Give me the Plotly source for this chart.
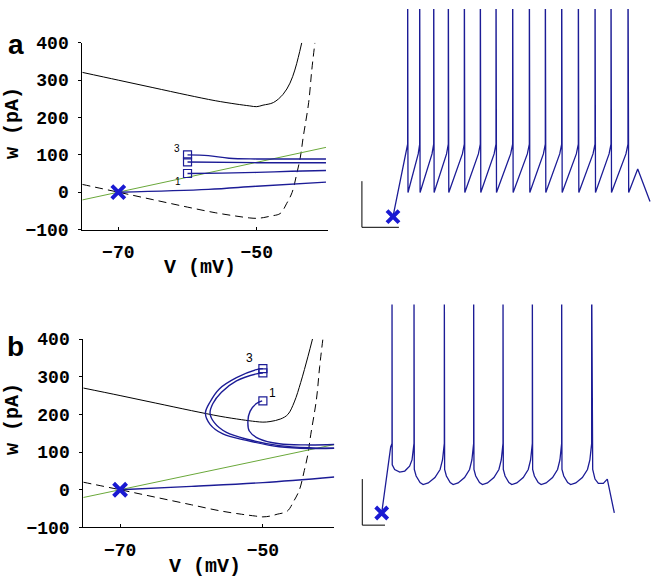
import plotly.graph_objects as go

# ---------------- Panel a : phase plane ----------------
vnull0_a_V = [-75.2, -70, -65, -60, -56, -53, -51, -50, -49, -48, -46.6, -45.7, -44.9, -44.2, -43.7, -43.3, -42.5, -42.05, -41.6]
vnull0_a_w = [20.8, 0, -20, -40, -55, -64, -69, -70, -68, -64, -57, -31, -1, 51, 94, 146, 240, 327, 400]
vnullI_a_V = [-75.2, -70, -65, -60, -56, -53, -51, -50, -49.1, -47.6, -46.2, -45.2, -44.5, -44.0, -43.5]
vnullI_a_w = [320.8, 300, 280, 260, 245, 236, 231, 229, 233, 240, 262, 292, 327, 361, 400]
wnull_a_V = [-75.2, -40.0]
wnull_a_w = [-20.8, 120]
traj0_a_V = [-70, -57, -50, -40]
traj0_a_w = [0, 7.5, 16, 27]
traj1_a_V = [-60, -55, -50, -45, -40]
traj1_a_w = [50, 51, 53, 56, 58]
traj2_a_V = [-60, -50, -40]
traj2_a_w = [81, 79, 79]
traj3_a_V = [-60, -57, -54, -50, -40]
traj3_a_w = [100, 98, 91, 89, 89]
start_a_V = [-60, -60, -60]
start_a_w = [100, 81, 50]
labels_a = [("3", -61.5, 117), ("1", -61.4, 29)]

# ---------------- Panel b : phase plane ----------------
vnull0_b_V = [-75.15, -70, -65, -60, -56, -53, -51, -50, -49, -48, -46.6, -45.7, -44.9, -44.2, -43.7, -43.3, -42.5, -42.05, -41.6]
vnull0_b_w = [20, 0, -20, -40, -56, -65, -70, -72, -70, -65, -57, -31, -1, 51, 94, 146, 240, 327, 400]
vnullI_b_V = [-75.15, -70, -65, -60, -56, -53, -51, -50, -49, -47.5, -46.5, -45.6, -44.7, -43.7, -43.0]
vnullI_b_w = [270, 250, 230, 210, 195, 186, 181, 179.5, 181, 188, 200, 233, 285, 353, 404]
wnull_b_V = [-75.15, -40.0]
wnull_b_w = [-20.6, 120]
traj0_b_V = [-70, -60, -50, -40]
traj0_b_w = [0, 9, 19, 34]
traj1_b_V = [-50.1, -50.9, -51.8, -52.1, -51.9, -50.5, -47.7, -44, -40]
traj1_b_w = [236, 229, 208, 182, 156, 135, 122, 119, 120]
traj2_b_V = [-50, -50.9, -53.7, -55.8, -57, -57.4, -56.8, -55.1, -51.9, -47.7, -43, -40]
traj2_b_w = [310, 307.7, 289, 259, 229, 203, 178, 152, 132.6, 117, 111, 110]
traj3_b_V = [-50, -50.9, -53.7, -56.1, -57.4, -58.05, -57.4, -55.6, -52.3, -47.7, -43, -40]
traj3_b_w = [321.5, 319, 297.5, 267.7, 233, 203.6, 173.6, 148, 131, 114, 109.5, 110]
start_b_V = [-50, -50, -50]
start_b_w = [321.5, 310, 236]
labels_b = [("3", -51.9, 350), ("1", -48.7, 256)]

rest_V = -70
rest_w = 0

# ---------------- Panel a : voltage trace (t in ms, V in mV) ----------------
spike_t_a = [39.6, 72.1, 110.0, 149.5, 192.8, 236.0, 278.4, 323.4, 368.5, 411.7,
             455.9, 500.9, 546.0, 589.2, 635.1]
start_seg_a_t = [0.0, 33.2, 38.0]
start_seg_a_v = [-70.0, -44.0, -41.0]
isi_frac_a = [0.03, 0.88, 0.96]
isi_v_a = [-60.0, -44.0, -41.0]
spike_base_a = -40.0
spike_peak = 40.0
end_seg_a_t = [637.0, 661.4, 694.6]
end_seg_a_v = [-60.0, -50.3, -63.7]
bar_a_t = [-84.0, -84.0, 16.0]
bar_a_v = [-55.3, -74.4, -74.4]

# ---------------- Panel b : voltage trace ----------------
spike_t_b = [45.4, 142.3, 275.9, 405.1, 534.4, 663.6, 792.8, 925.0]
start_seg_b_t = [0.0, 29.0, 39.6]
start_seg_b_v = [-70.0, -48.5, -39.6]
isi1_frac_b = [0.01, 0.12, 0.35, 0.58, 0.80, 0.91, 0.97]
isi1_v_b = [-47.8, -50.0, -51.2, -50.7, -48.5, -45.6, -41.8]
isi_frac_b = [0.01, 0.07, 0.20, 0.30, 0.47, 0.69, 0.86, 0.94, 0.98]
isi_v_b = [-50.0, -53.0, -56.0, -56.9, -56.2, -53.7, -50.0, -45.6, -41.1]
spike_base_b = -38.0
end_seg_b_t = [929.5, 939.6, 954.2, 976.2, 993.8, 1024.7]
end_seg_b_v = [-50.0, -54.4, -56.4, -56.4, -54.4, -70.0]
bar_b_t = [-85.5, -85.5, 14.5]
bar_b_v = [-54.4, -75.6, -75.6]

NAVY = "#1c1c96"
XBLUE = "#1a1ad2"
GREEN = "#6aa83a"


def build_trace(start_t, start_v, spikes, base, templates, end_t, end_v):
    t = list(start_t)
    v = list(start_v)
    for i, s in enumerate(spikes):
        t += [s, s]
        v += [base, spike_peak]
        if i < len(spikes) - 1:
            nxt = spikes[i + 1]
            fr, vv = templates[min(i, len(templates) - 1)]
            for f, val in zip(fr, vv):
                t.append(s + f * (nxt - s))
                v.append(val)
    t += end_t
    v += end_v
    return t, v


ta, va = build_trace(start_seg_a_t, start_seg_a_v, spike_t_a, spike_base_a,
                     [(isi_frac_a, isi_v_a)], end_seg_a_t, end_seg_a_v)
tb, vb = build_trace(start_seg_b_t, start_seg_b_v, spike_t_b, spike_base_b,
                     [(isi1_frac_b, isi1_v_b), (isi_frac_b, isi_v_b)], end_seg_b_t, end_seg_b_v)

fig = go.Figure()


def line(x, y, xa, ya, color, width=1.0, dash="solid", shape="spline"):
    fig.add_trace(go.Scatter(x=x, y=y, xaxis=xa, yaxis=ya, mode="lines",
                             line=dict(color=color, width=width, dash=dash, shape=shape),
                             hoverinfo="skip", showlegend=False))


def phase(xa, ya, n0V, n0w, nIV, nIw, wV, ww, trajs, sV, sw):
    line(n0V, n0w, xa, ya, "black", 1.0, "8px,5px")
    line(nIV, nIw, xa, ya, "black", 1.0)
    line(wV, ww, xa, ya, GREEN, 1.0, shape="linear")
    for (tv, tw) in trajs:
        line(tv, tw, xa, ya, NAVY, 1.4)
    fig.add_trace(go.Scatter(x=sV, y=sw, xaxis=xa, yaxis=ya, mode="markers",
                             marker=dict(symbol="square-open", size=8, color=NAVY,
                                         line=dict(width=1.2, color=NAVY)),
                             hoverinfo="skip", showlegend=False))
    fig.add_trace(go.Scatter(x=[rest_V], y=[rest_w], xaxis=xa, yaxis=ya, mode="markers",
                             marker=dict(symbol="x-thin-open", size=13, color=XBLUE,
                                         line=dict(width=4, color=XBLUE)),
                             hoverinfo="skip", showlegend=False))


phase("x", "y", vnull0_a_V, vnull0_a_w, vnullI_a_V, vnullI_a_w, wnull_a_V, wnull_a_w,
      [(traj0_a_V, traj0_a_w), (traj1_a_V, traj1_a_w), (traj2_a_V, traj2_a_w), (traj3_a_V, traj3_a_w)],
      start_a_V, start_a_w)
phase("x2", "y2", vnull0_b_V, vnull0_b_w, vnullI_b_V, vnullI_b_w, wnull_b_V, wnull_b_w,
      [(traj0_b_V, traj0_b_w), (traj1_b_V, traj1_b_w), (traj2_b_V, traj2_b_w), (traj3_b_V, traj3_b_w)],
      start_b_V, start_b_w)

# voltage traces
for (t, v, xa, ya, bt, bv) in [(ta, va, "x3", "y3", bar_a_t, bar_a_v), (tb, vb, "x4", "y4", bar_b_t, bar_b_v)]:
    line(t, v, xa, ya, NAVY, 1.3, shape="linear")
    line(bt, bv, xa, ya, "black", 1.0, shape="linear")
    fig.add_trace(go.Scatter(x=[0.0], y=[-70.0], xaxis=xa, yaxis=ya, mode="markers",
                             marker=dict(symbol="x-thin-open", size=12, color=XBLUE,
                                         line=dict(width=4, color=XBLUE)),
                             hoverinfo="skip", showlegend=False))

W, H = 651, 587
tickfont = dict(family="Liberation Mono, Courier New, monospace", size=18, color="black", weight="bold")


def px_dom(a, b, total):
    return [a / total, b / total]


def phase_axes(xdom, ydom, xrange_, anchor_x, anchor_y):
    xa = dict(domain=xdom, range=xrange_, anchor=anchor_y, showline=True, linecolor="black",
              linewidth=1, showgrid=False, zeroline=False, ticks="inside", ticklen=3,
              tickcolor="black", tickvals=[-70, -50], ticktext=["\u221270", "\u221250"],
              tickfont=tickfont, ticklabelstandoff=6)
    ya = dict(domain=ydom, range=[-100, 400], anchor=anchor_x, showline=True, linecolor="black",
              linewidth=1, showgrid=False, zeroline=False, ticks="outside", ticklen=3,
              tickcolor="black", tickvals=[-100, 0, 100, 200, 300, 400],
              ticktext=["\u2212100", "0", "100", "200", "300", "400"], tickfont=tickfont,
              ticklabelstandoff=6)
    return xa, ya


xa1, ya1 = phase_axes(px_dom(82.3, 327.7, W), [1 - 228.3 / H, 1 - 35 / H], [-75.2, -39.75], "x", "y")
xa2, ya2 = phase_axes(px_dom(83.3, 334.3, W), [1 - 536.7 / H, 1 - 341.7 / H], [-75.15, -40.0], "x2", "y2")

hidden = dict(visible=False, showgrid=False, zeroline=False)

annotations = []
title_font = dict(family="Liberation Mono, Courier New, monospace", size=20, color="black", weight="bold")
for (txt, x, y, ang) in [("w (pA)", 12.5, 118.5, -90), ("V (mV)", 200, 268, 0),
                         ("w (pA)", 12.5, 425, -90), ("V (mV)", 205, 576.7, 0)]:
    annotations.append(dict(text=txt, x=x / W, y=1 - y / H, xref="paper", yref="paper",
                            showarrow=False, textangle=ang, font=title_font,
                            xanchor="center", yanchor="middle"))
for (txt, x, y) in [("a", 15.5, 36.5), ("b", 15, 349)]:
    annotations.append(dict(text=txt, x=x / W, y=1 - y / H, xref="paper", yref="paper",
                            showarrow=False, font=dict(family="Liberation Sans, Arial", size=28,
                                                       color="black", weight="bold"),
                            xanchor="center", yanchor="middle"))
for (txt, v, w) in labels_a:
    annotations.append(dict(text=txt, x=v, y=w, xref="x", yref="y", showarrow=False,
                            font=dict(family="Liberation Sans, Arial", size=10, color="black")))
for (txt, v, w) in labels_b:
    annotations.append(dict(text=txt, x=v, y=w, xref="x2", yref="y2", showarrow=False,
                            font=dict(family="Liberation Sans, Arial", size=12, color="black")))

fig.update_layout(
    width=W, height=H, margin=dict(l=0, r=0, t=0, b=0),
    paper_bgcolor="white", plot_bgcolor="white", showlegend=False,
    xaxis=xa1, yaxis=ya1, xaxis2=xa2, yaxis2=ya2,
    xaxis3=dict(domain=[340 / W, 1], range=[-143.2, 697.3], anchor="y3", **hidden),
    yaxis3=dict(domain=[1 - 240 / H, 1], range=[-80, 16], anchor="x3", **hidden),
    xaxis4=dict(domain=[340 / W, 1], range=[-183.7, 1186.3], anchor="y4", **hidden),
    yaxis4=dict(domain=[1 - 560 / H, 1 - 306 / H], range=[-87.0, 25.9], anchor="x4", **hidden),
    annotations=annotations,
)

fig.write_html("out.html", config={"displayModeBar": False},
               post_script="document.body.style.margin='0';document.body.style.overflow='hidden';")
